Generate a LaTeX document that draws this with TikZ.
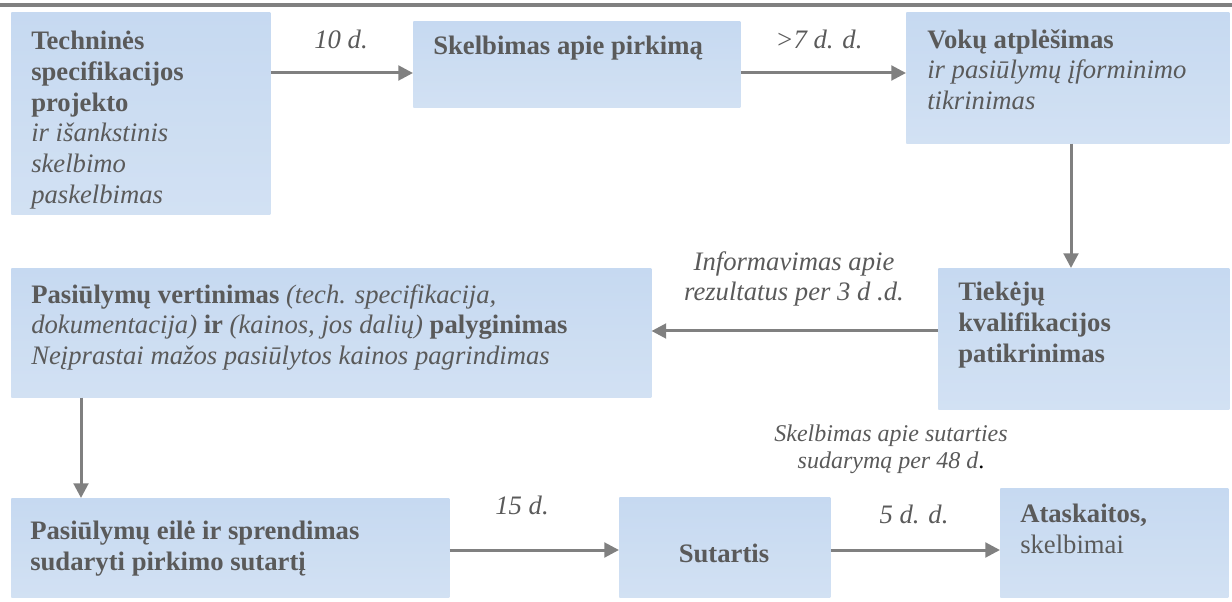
\documentclass[tikz,border=0pt]{standalone}
\usepackage{fontspec}
\setmainfont{Liberation Serif}
\usetikzlibrary{arrows.meta}
\definecolor{boxblue}{HTML}{C6D9F1}
\definecolor{boxlight}{HTML}{D2E1F3}
\definecolor{txtgray}{HTML}{5A5A5A}
\definecolor{arrgray}{HTML}{808080}
\begin{document}
\begin{tikzpicture}[x=0.75pt,y=-0.75pt,
  box/.style 2 args={anchor=north west, inner sep=0pt, top color=boxblue, bottom color=boxlight,
    minimum width=#1*0.75pt, minimum height=#2*0.75pt},
  txt/.style={anchor=north west, inner sep=0pt, align=left, text=txtgray,
    font=\fontsize{20}{23}\selectfont},
  lbl/.style={align=center, inner sep=0pt, text=txtgray, font=\fontsize{20}{23}\selectfont\itshape},
  arr/.style={draw=arrgray, line width=2.25pt, -{Triangle[length=11pt,width=11pt]}}]
\useasboundingbox (0,0) rectangle (1232,602);
\draw[arrgray, line width=2.4pt] (0,5) -- (1232,5);
% boxes
\node[box={259}{202}] (tech) at (11,12) {};
\node[box={327}{86}] (skel) at (413,21) {};
\node[box={323}{131}] (vok) at (906,12) {};
\node[box={291}{141}] (tiek) at (938,268) {};
\node[box={640}{129}] (vert) at (11,268) {};
\node[box={438}{99}] (eile) at (11,498) {};
\node[box={211}{100}] (sut) at (619,497) {};
\node[box={228}{109}] (atas) at (1000,488) {};
% texts
\node[txt] (tech-t) at (31,31) {\textbf{Techninės}\\ \textbf{specifikacijos}\\ \textbf{projekto}\\
  \textit{ir išankstinis}\\ \textit{skelbimo}\\ \textit{paskelbimas}};
\node[txt] (skel-t) at (433,36) {\textbf{Skelbimas apie pirkimą}};
\node[txt] (vok-t) at (927,29) {\textbf{Vokų atplėšimas}\\ \textit{ir pasiūlymų įforminimo}\\ \textit{tikrinimas}};
\node[txt] (tiek-t) at (958,282) {\textbf{Tiekėjų}\\ \textbf{kvalifikacijos}\\ \textbf{patikrinimas}};
\node[txt] (vert-t) at (31,284) {\textbf{Pasiūlymų vertinimas} \textit{(tech. specifikacija,}\\
  \textit{dokumentacija)} \textbf{ir} \textit{(kainos, jos dalių)} \textbf{palyginimas}\\
  \textit{Neįprastai mažos pasiūlytos kainos pagrindimas}};
\node[txt] (eile-t) at (30,521) {\textbf{Pasiūlymų eilė ir sprendimas}\\ \textbf{sudaryti pirkimo sutartį}};
\node[txt, anchor=center] (sut-t) at (724,553) {\textbf{Sutartis}};
\node[txt] (atas-t) at (1020,504) {\textbf{Ataskaitos,}\\ skelbimai};
% labels
\node[lbl] (l-10) at (341,39) {10 d.};
\node[lbl] (l-7) at (819,39) {>7 d. d.};
\node[lbl] (l-3) at (794,279) {Informavimas apie\\ rezultatus per 3 d .d.};
\node[lbl, font=\fontsize{18}{20.5}\selectfont\itshape] (l-48) at (891,449) {Skelbimas apie sutarties\\ sudarymą per 48 d{\upshape\color{black}.}};
\node[lbl] (l-15) at (522,505) {15 d.};
\node[lbl] (l-5) at (914,514) {5 d. d.};
% arrows
\draw[arr] (tech.east |- 0,73) -- (skel.west |- 0,73);
\draw[arr] (skel.east |- 0,73) -- (vok.west |- 0,73);
\draw[arr] (vok.south -| 1071,0) -- (tiek.north -| 1071,0);
\draw[arr] (tiek.west |- 0,331) -- (vert.east |- 0,331);
\draw[arr] (vert.south -| 81,0) -- (eile.north -| 81,0);
\draw[arr] (eile.east |- 0,550) -- (sut.west |- 0,550);
\draw[arr] (sut.east |- 0,550) -- (atas.west |- 0,550);
\end{tikzpicture}
\end{document}
